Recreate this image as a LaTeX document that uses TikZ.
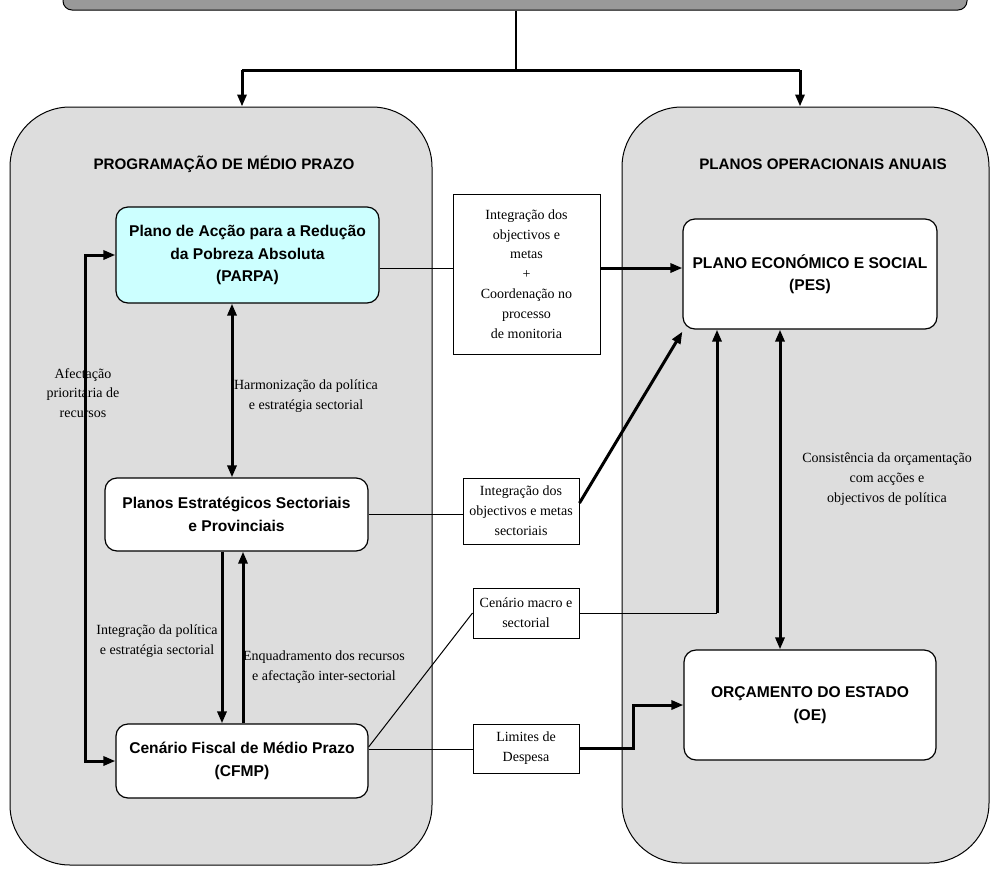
\documentclass[tikz,border=0pt]{standalone}
\usepackage{fontspec}
\setmainfont{Liberation Serif}
\setsansfont{Liberation Sans}
\usetikzlibrary{arrows.meta,calc}
\definecolor{panelgray}{HTML}{DDDDDD}
\definecolor{bargray}{HTML}{999999}
\definecolor{parpacyan}{HTML}{CCFFFF}
\tikzset{
  panel/.style={draw, fill=panelgray, rounded corners=60pt, line width=1pt, inner sep=0},
  mainbox/.style={draw, fill=white, rounded corners=12pt, line width=1.2pt, align=center, inner sep=0,
    font=\sffamily\bfseries\fontsize{15.6}{22.5}\selectfont},
  lblbox/.style={draw, fill=white, line width=1pt, align=center, inner sep=0,
    font=\fontsize{14}{19.8}\selectfont},
  note/.style={align=center, inner sep=0, font=\fontsize{14}{19.8}\selectfont},
  ptitle/.style={inner sep=0, font=\sffamily\bfseries\fontsize{15.2}{18}\selectfont},
  thin/.style={line width=1pt},
  thickline/.style={line width=3pt},
  tip/.style={-{Triangle[length=12pt,width=9pt]}},
  tips/.style={{Triangle[length=12pt,width=9pt]}-{Triangle[length=12pt,width=9pt]}},
}
\begin{document}
\begin{tikzpicture}[x=1pt,y=-1pt]
\useasboundingbox (0,0) rectangle (991,868);
% top bar
\node[draw, fill=bargray, rounded corners=9pt, line width=1pt, minimum width=904pt, minimum height=60pt, inner sep=0] (top) at (515,-20) {};
% panels
\node[panel, minimum width=422pt, minimum height=758pt] (LP) at (221,486) {};
\node[panel, minimum width=367pt, minimum height=756pt] (RP) at (805.5,485) {};
\node[ptitle] (LPt) at (224,164) {PROGRAMAÇÃO DE MÉDIO PRAZO};
\node[ptitle] (RPt) at (823,164) {PLANOS OPERACIONAIS ANUAIS};
% junctions
\coordinate (j) at (516,70);
\coordinate (jl) at (242,70);
\coordinate (jr) at (800,70);
\draw[thin, line width=1.5pt] (top.south -| j) -- (j);
\draw[thickline] (jl) -- (jr);
\draw[thickline, tip] (jl) -- (jl |- LP.north);
\draw[thickline, tip] (jr) -- (jr |- RP.north);
% main boxes
\node[mainbox, fill=parpacyan, minimum width=263pt, minimum height=96pt] (PARPA) at (247.5,255)
  {Plano de Acção para a Redução\\da Pobreza Absoluta\\(PARPA)};
\node[mainbox, minimum width=263pt, minimum height=73pt] (PEST) at (236.5,514.5)
  {Planos Estratégicos Sectoriais\\e Provinciais};
\node[mainbox, minimum width=252pt, minimum height=74pt] (CFMP) at (242,761)
  {Cenário Fiscal de Médio Prazo\\(CFMP)};
\node[mainbox, minimum width=254pt, minimum height=110pt] (PES) at (810,274)
  {PLANO ECONÓMICO E SOCIAL\\(PES)};
\node[mainbox, minimum width=252pt, minimum height=110pt] (OE) at (810,705)
  {ORÇAMENTO DO ESTADO\\(OE)};
% label boxes
\node[lblbox, minimum width=147pt, minimum height=160pt] (b1) at (526.5,274)
  {Integração dos\\objectivos e\\metas\\+\\Coordenação no\\processo\\de monitoria};
\node[lblbox, minimum width=116pt, minimum height=66pt] (b2) at (521,511)
  {Integração dos\\objectivos e metas\\sectoriais};
\node[lblbox, minimum width=106pt, minimum height=50pt] (b3) at (526,613)
  {Cenário macro e\\sectorial};
\node[lblbox, minimum width=106pt, minimum height=49pt] (b4) at (526,748.5)
  {Limites de\\Despesa};
% notes
\node[note] (n1) at (83,393) {Afectação\\prioritária de\\recursos};
\node[note] (n2) at (306,396) {Harmonização da política\\e estratégia sectorial};
\node[note] (n3) at (157,641) {Integração da política\\e estratégia sectorial};
\node[note] (n4) at (324,667) {Enquadramento dos recursos\\e afectação inter-sectorial};
\node[note] (n5) at (887,479) {Consistência da orçamentação\\com acções e\\objectivos de política};
% helper coordinates
\coordinate (l1) at (0,268);
\coordinate (lx) at (85,0);
\coordinate (ax) at (232,0);
\coordinate (dx) at (222,0);
\coordinate (ux) at (243,0);
\coordinate (cx) at (717,0);
\coordinate (ox) at (780,0);
\coordinate (bx) at (633,0);
\coordinate (c1) at ([yshift=14pt]CFMP.east);
\coordinate (c2) at ([yshift=12pt]CFMP.east);
% connectors
\draw[thin] (PARPA.east |- l1) -- (b1.west |- l1);
\draw[thickline, tip] (b1.east |- l1) -- (PES.west |- l1);
\draw[thin] (PEST.east) -- (b2.west |- PEST.east);
\draw[thickline, tip] ([yshift=8pt]b2.east) -- ([yshift=-2pt]PES.south west);
\draw[thin] (b3.east) -- (cx |- b3.east);
\draw[thickline, tip] (cx |- b3.east) -- (cx |- PES.south);
\draw[thin] (c1) -- (b3.west);
\draw[thin] (c2) -- (b4.west |- c2);
\draw[thickline, tip] (b4.east) -- (bx |- b4.east) |- (OE.west);
\draw[thickline, tips] (ox |- PES.south) -- (ox |- OE.north);
\draw[thickline, tips] (ax |- PARPA.south) -- (ax |- PEST.north);
\draw[thickline, tip] (dx |- PEST.south) -- (dx |- CFMP.north);
\draw[thickline, tip] (ux |- CFMP.north) -- (ux |- PEST.south);
\draw[thickline, tips] (PARPA.west) -| (lx |- CFMP.west) -- (CFMP.west);
\end{tikzpicture}
\end{document}
